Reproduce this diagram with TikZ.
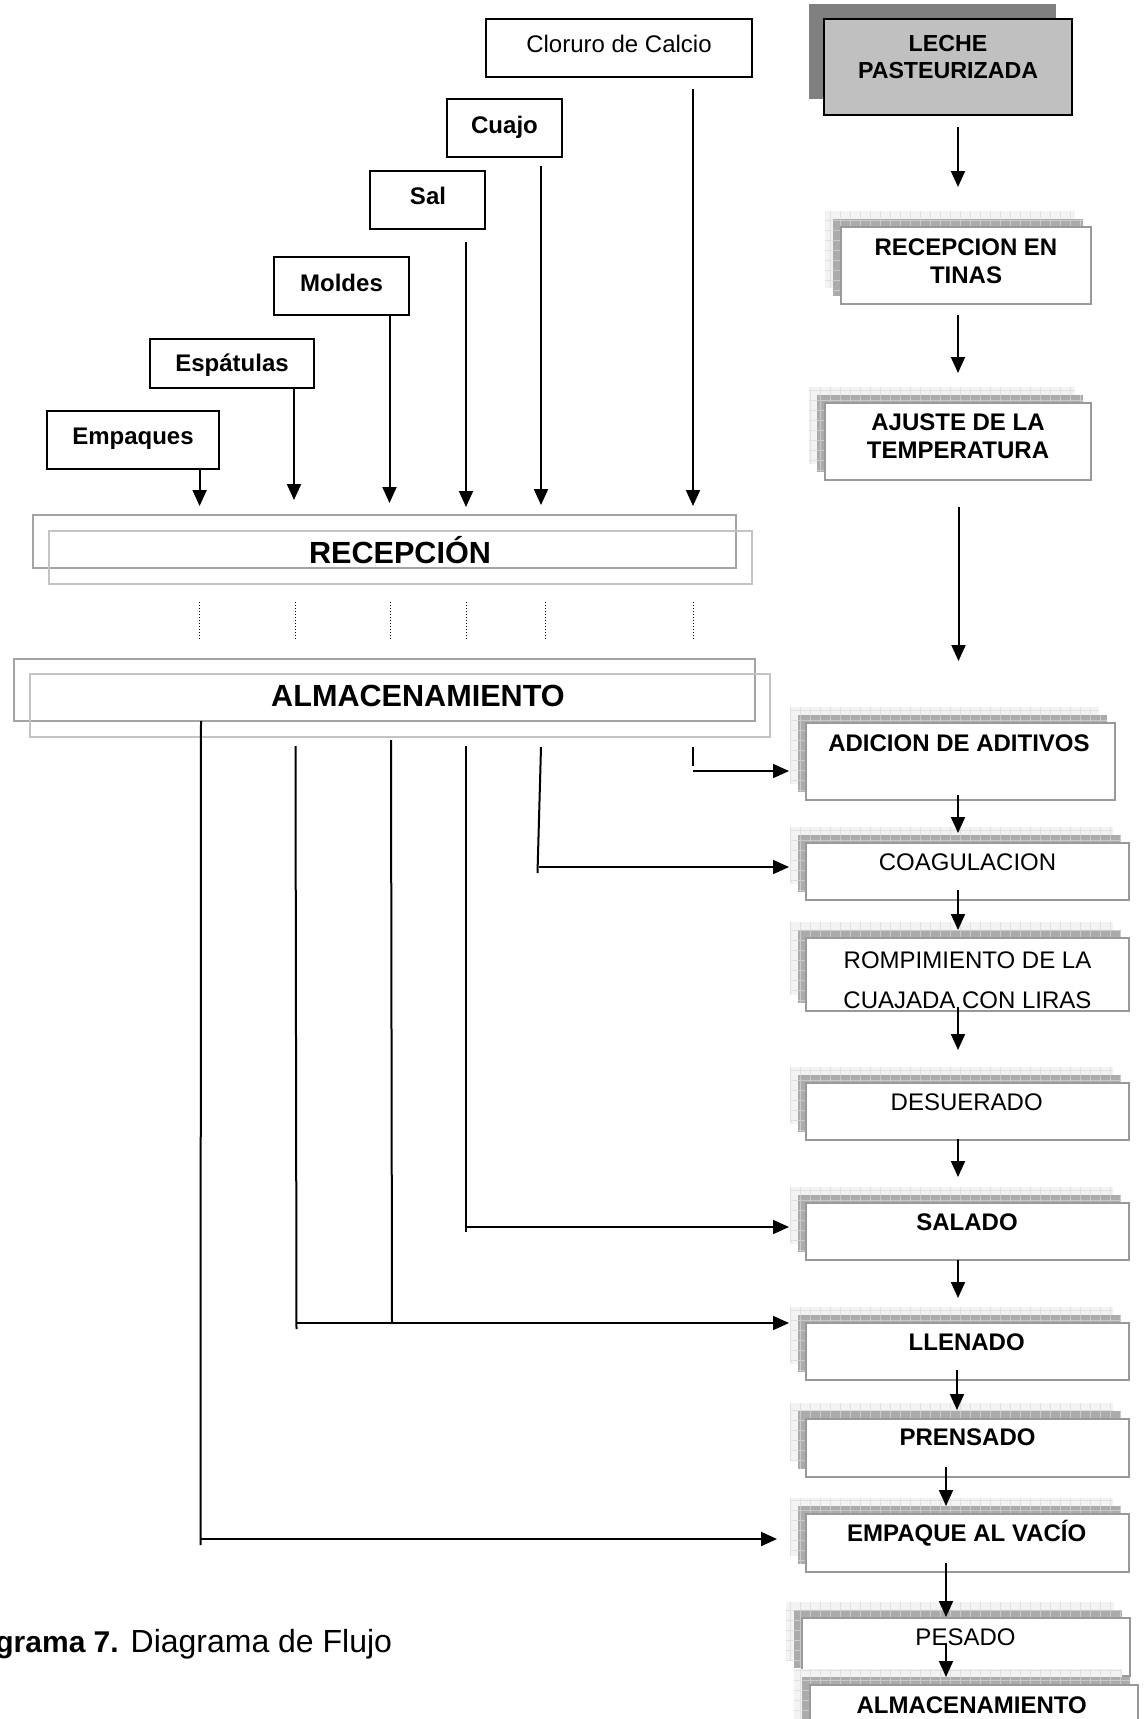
\documentclass[tikz,border=0pt]{standalone}
\usepackage{fontspec}
\setmainfont{Liberation Sans}
\usetikzlibrary{arrows.meta,fit}

\definecolor{shadowgray}{HTML}{808080}
\definecolor{lechefill}{HTML}{C0C0C0}
\definecolor{faceline}{HTML}{999999}
\definecolor{midfill}{HTML}{ABABAB}
\definecolor{midgrid}{HTML}{CACACA}
\definecolor{backfill}{HTML}{F3F3F3}
\definecolor{backgrid}{HTML}{E0E0E0}
\definecolor{wideback}{HTML}{A4A4A4}
\definecolor{widefront}{HTML}{C4C4C4}

\tikzset{
  flow/.style={line width=1pt, draw=black},
  arr/.style={flow, -{Triangle[length=8pt,width=7pt]}},
  dotline/.style={line width=0.5pt, dash pattern=on 0.6pt off 0.9pt},
  inbox/.style={draw=black, line width=1pt, fill=white, inner sep=0pt},
  face/.style={draw=faceline, line width=1.2pt, fill=white, inner sep=0pt},
  widebox/.style={draw=widefront, line width=1.2pt, inner sep=0pt},
  lbl/.style={inner sep=0pt, anchor=base, font=\fontsize{12}{14}\selectfont},
  lblb/.style={inner sep=0pt, anchor=base, font=\fontsize{12}{14}\selectfont\bfseries},
  lblbig/.style={inner sep=0pt, anchor=base, font=\fontsize{15.3}{18}\selectfont\bfseries},
}

% stacked process box: two gridded layers behind a white face
% #1 name, (#2,#3) top-left and (#4,#5) bottom-right of the face
\newcommand\layerbox[5]{%
  \begin{scope}
    \clip (#2-16,#3-16) rectangle (#4-16,#5-16);
    \fill[backfill] (#2-16,#3-16) rectangle (#4-16,#5-16);
    \draw[backgrid, line width=0.3pt] (#2-16,#3-16) grid[step=5pt] (#4-16,#5-16);
  \end{scope}
  \begin{scope}
    \clip (#2-8,#3-8) rectangle (#4-8,#5-8);
    \fill[midfill] (#2-8,#3-8) rectangle (#4-8,#5-8);
    \draw[midgrid, line width=0.3pt] (#2-8,#3-8) grid[step=5pt] (#4-8,#5-8);
  \end{scope}
  \node[face, fit={(#2,#3) (#4,#5)}] (#1) {};
}

\begin{document}
\begin{tikzpicture}[x=0.5pt, y=-0.5pt]
\useasboundingbox (0,0) rectangle (1146,1719);

% ---------- supplies ----------
\node[inbox, fit={(486,19) (752,77)}] (cloruro) {};
\node[lbl] (tcloruro) at (619,52.3) {Cloruro de Calcio};
\node[inbox, fit={(447,99) (562,157)}] (cuajo) {};
\node[lblb] (tcuajo) at (504.5,133.3) {Cuajo};
\node[inbox, fit={(370,171) (485,229)}] (sal) {};
\node[lblb] (tsal) at (428,204.3) {Sal};
\node[inbox, fit={(274,257) (409,315)}] (moldes) {};
\node[lblb] (tmoldes) at (341.5,291.7) {Moldes};
\node[inbox, fit={(150,339) (314,388)}] (espatulas) {};
\node[lblb] (tespatulas) at (232,371) {Espátulas};
\node[inbox, fit={(47,411) (219,469)}] (empaques) {};
\node[lblb] (tempaques) at (133,444.3) {Empaques};

% ---------- reception and storage ----------
\draw[wideback, line width=1pt] (33,515) rectangle (736,568);
\node[widebox, fit={(49,531) (752,584)}] (recepcion) {};
\node[lblbig] (trecepcion) at (400,563) {RECEPCIÓN};

\draw[wideback, line width=1pt] (14,659) rectangle (755,721);
\node[widebox, fit={(30,674) (770,737)}] (almacen) {};
\node[lblbig] (talmacen) at (418,706.7) {ALMACENAMIENTO};

% ---------- process column ----------
\fill[shadowgray] (809,4) rectangle (1056,99);
\node[draw=black, line width=1pt, fill=lechefill, inner sep=0pt, fit={(824,19) (1072,115)}] (leche) {};
\node[lblb, font=\fontsize{11.6}{14}\selectfont\bfseries] (tleche1) at (948,51.7) {LECHE};
\node[lblb, font=\fontsize{11.6}{14}\selectfont\bfseries] (tleche2) at (948,78.3) {PASTEURIZADA};

\layerbox{tinas}{841}{227}{1091}{304}
\node[lblb] (ttinas1) at (966,255) {RECEPCION EN};
\node[lblb] (ttinas2) at (966,283.3) {TINAS};

\layerbox{ajuste}{825}{403}{1091}{480}
\node[lblb] (tajuste1) at (958,430) {AJUSTE DE LA};
\node[lblb] (tajuste2) at (958,458.3) {TEMPERATURA};

\layerbox{adicion}{806}{723}{1115}{800}
\node[lblb] (tadicion) at (959,751.7) {ADICION DE ADITIVOS};

\layerbox{coag}{806}{843}{1129}{900}
\node[lbl] (tcoag) at (967.5,870) {COAGULACION};

\layerbox{romp}{806}{938}{1129}{1011}
\node[lbl] (tromp1) at (967.5,968.3) {ROMPIMIENTO DE LA};
\node[lbl] (tromp2) at (967.5,1008.3) {CUAJADA CON LIRAS};

\layerbox{desuer}{806}{1083}{1129}{1140}
\node[lbl] (tdesuer) at (966.7,1110) {DESUERADO};

\layerbox{salado}{806}{1203}{1129}{1260}
\node[lblb] (tsalado) at (967,1230) {SALADO};

\layerbox{llenado}{806}{1323}{1129}{1380}
\node[lblb] (tllenado) at (966.7,1350) {LLENADO};

\layerbox{prensado}{806}{1419}{1129}{1477}
\node[lblb] (tprensado) at (967.5,1445) {PRENSADO};

\layerbox{empaque}{806}{1514}{1129}{1572}
\node[lblb] (tempaque) at (966.7,1541.7) {EMPAQUE AL VACÍO};

\layerbox{pesado}{802}{1618}{1130}{1676}
\node[lbl] (tpesado) at (965.5,1645) {PESADO};

\layerbox{almfinal}{810}{1685}{1138}{1745}
\node[lblb] (talmfinal) at (971.7,1713) {ALMACENAMIENTO};

% ---------- supplies into reception ----------
\coordinate (in1) at (199.6,506);
\coordinate (in2) at (294,500);
\coordinate (in3) at (389.5,503);
\coordinate (in4a) at (466,242);  \coordinate (in4) at (466,507);
\coordinate (in5a) at (541,166);  \coordinate (in5) at (541,505);
\coordinate (in6a) at (693,89);   \coordinate (in6) at (693,506);
\draw[arr] (empaques.south -| in1) -- (in1);
\draw[arr] (espatulas.south -| in2) -- (in2);
\draw[arr] (moldes.south -| in3) -- (in3);
\draw[arr] (in4a) -- (in4);
\draw[arr] (in5a) -- (in5);
\draw[arr] (in6a) -- (in6);

% ---------- reception to storage ----------
\foreach \i/\xx in {1/199.6, 2/295, 3/390.4, 4/466, 5/545, 6/693} {
  \coordinate (d\i a) at (\xx,602);
  \coordinate (d\i b) at (\xx,640);
  \draw[dotline] (d\i a) -- (d\i b);
}

% ---------- storage out to the process steps ----------
\coordinate (o6a) at (693,747);   \coordinate (o6b) at (693,771);   \coordinate (o6c) at (789,771);
\draw[flow] (o6a) -- (693,766);
\draw[arr] (o6b) -- (o6c);

\coordinate (o5a) at (541,747);   \coordinate (o5b) at (537.5,873); \coordinate (o5h) at (539,867); \coordinate (o5c) at (789,867);
\draw[flow] (o5a) -- (o5b);
\draw[arr] (o5h) -- (o5c);

\coordinate (o4a) at (466,746);   \coordinate (o4b) at (466,1232);  \coordinate (o4h) at (466,1227); \coordinate (o4c) at (789,1227);
\draw[flow] (o4a) -- (o4b);
\draw[arr] (o4h) -- (o4c);

\coordinate (o3a) at (391,740);   \coordinate (o3b) at (392,1323);
\coordinate (o2a) at (295.5,746); \coordinate (o2b) at (296.5,1329); \coordinate (o2h) at (296.5,1323); \coordinate (o2c) at (789,1323);
\draw[flow] (o3a) -- (o3b);
\draw[flow] (o2a) -- (o2b);
\draw[arr] (o2h) -- (o2c);

\coordinate (o1a) at (201,721); \coordinate (o1b) at (200.5,1545); \coordinate (o1h) at (200.5,1539); \coordinate (o1c) at (777,1539);
\draw[flow] (o1a) -- (o1b);
\draw[arr] (o1h) -- (o1c);

% ---------- main process arrows ----------
\foreach \i/\xx/\ya/\yb in {1/958/127/187, 2/958/315/373, 3/958.5/507/661,
    4/958/795/833, 5/958/890/930, 6/958/1007/1050, 7/958/1139/1177,
    8/958/1260/1298, 9/957/1370/1410, 10/946/1467/1506,
    11/946/1563/1617, 12/946/1643/1677} {
  \coordinate (p\i a) at (\xx,\ya);
  \coordinate (p\i b) at (\xx,\yb);
  \draw[arr] (p\i a) -- (p\i b);
}

% ---------- caption (runs off the left edge of the page) ----------
\node[inner sep=0pt, anchor=base west, font=\fontsize{16}{19}\selectfont] (caption)
  at (-5,1652) {{\fontsize{15}{19}\selectfont\bfseries grama 7.} Diagrama de Flujo};
\end{tikzpicture}
\end{document}
